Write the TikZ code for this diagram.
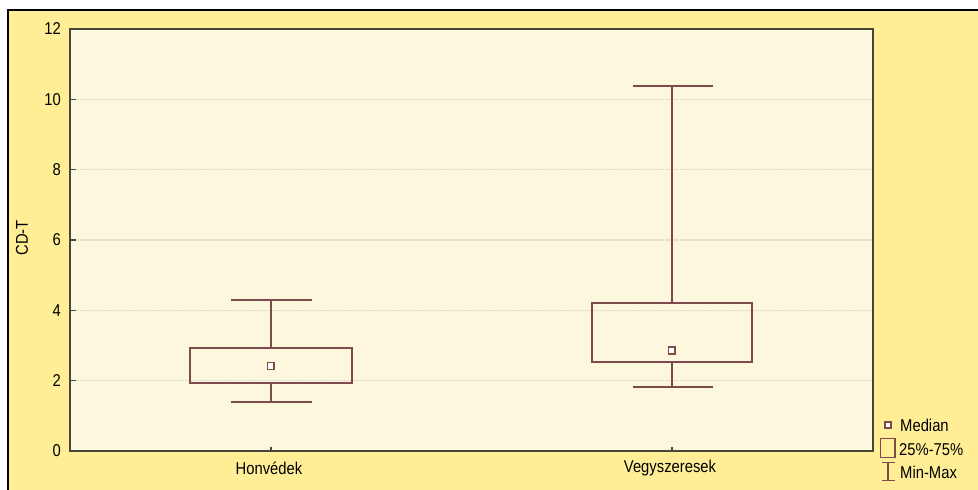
\documentclass[tikz,border=0pt]{standalone}
\usepackage{fontspec}
\usepackage{graphicx}
\setmainfont{Liberation Sans}
\definecolor{outerbg}{RGB}{255,238,150}
\definecolor{plotbg}{RGB}{253,247,222}
\definecolor{boxc}{RGB}{125,75,75}
\definecolor{framec}{RGB}{70,70,60}
\definecolor{gridc}{RGB}{218,215,203}
\newcommand\talltxt[1]{\scalebox{1.02}[1.18]{#1}}
\tikzset{
  lbl/.style={font=\fontsize{14.5}{16}\selectfont, inner sep=0pt, text=black},
  boxline/.style={draw=boxc, line width=1.4pt},
  medmark/.style={draw=boxc, fill=white, line width=1.2pt},
  gridline/.style={draw=gridc, line width=1.2pt, dash pattern=on 2pt off 1pt},
  tickline/.style={draw=framec, line width=1.2pt}
}
\begin{document}
\begin{tikzpicture}[x=1pt,y=-1pt]
\useasboundingbox (0,0) rectangle (978,490);
% outer panel
\fill[white] (0,0) rectangle (978,490);
\fill[outerbg] (8,10) rectangle (980,492);
\draw[black, line width=1.5pt] (8,492) -- (8,10) -- (980,10);
% plot area
\fill[plotbg] (70,29) rectangle (873,451);
% grid
\foreach \v in {2,4,6,8,10} {
  \draw[gridline] (71,{451-\v*35.17}) -- (872,{451-\v*35.17});
}
% frame
\draw[framec, line width=1.6pt] (70,29) rectangle (873,451);
% y ticks and labels
\foreach \v in {0,2,4,6,8,10,12} {
  \draw[tickline] (70,{451-\v*35.17}) -- (76,{451-\v*35.17});
  \node[lbl, anchor=east] (yt\v) at (61,{451-\v*35.17}) {\talltxt{\v}};
}
% x ticks and labels
\draw[tickline] (271,451) -- (271,447);
\draw[tickline] (672,451) -- (672,447);
\node[lbl] (xl1) at (269,468) {\talltxt{Honvédek}};
\node[lbl] (xl2) at (670,468) {\talltxt{Vegyszeresek}};
\node[lbl, rotate=90] (ylab) at (22,238) {\talltxt{CD-T}};
% Box 1: Honvedek
\coordinate (b1top) at (271,300);
\coordinate (b1bot) at (271,402);
\draw[boxline] (190,348) rectangle (352,383);
\draw[boxline] (271,348) -- (b1top);
\draw[boxline] (271,383) -- (b1bot);
\draw[boxline] (231,300) -- (312,300);
\draw[boxline] (231,402) -- (312,402);
\draw[medmark] (267.5,362.5) rectangle (274,369.5);
% Box 2: Vegyszeresek
\coordinate (b2top) at (672,86);
\coordinate (b2bot) at (672,387);
\draw[boxline] (592,303) rectangle (752,362);
\draw[boxline] (672,303) -- (b2top);
\draw[boxline] (672,362) -- (b2bot);
\draw[boxline] (633,86) -- (713,86);
\draw[boxline] (633,387) -- (713,387);
\draw[medmark] (668.5,347) rectangle (675,354);
% legend
\draw[medmark, line width=1.2pt] (885,422) rectangle (891,428);
\node[lbl, anchor=west] (lg1) at (900,425) {\talltxt{Median}};
\draw[boxline, line width=1.3pt] (880.5,438.5) rectangle (895,457.5);
\node[lbl, anchor=west] (lg2) at (899,449.5) {\talltxt{25\%-75\%}};
\draw[boxline, line width=1.3pt] (888,462.5) -- (888,480.5);
\draw[boxline, line width=1.3pt] (882,462.5) -- (894.5,462.5);
\draw[boxline, line width=1.3pt] (882,480.5) -- (894.5,480.5);
\node[lbl, anchor=west] (lg3) at (900,472) {\talltxt{Min-Max}};
\end{tikzpicture}
\end{document}
